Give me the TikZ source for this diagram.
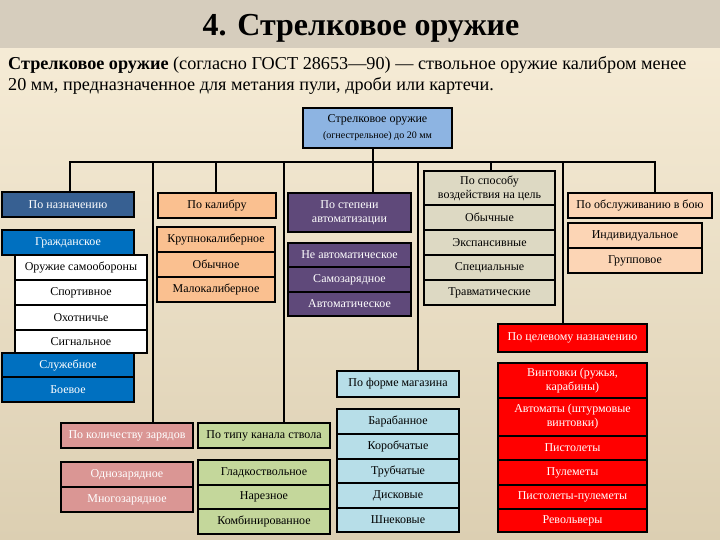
\documentclass[tikz,border=0pt]{standalone}
\usepackage{fontspec}
\setmainfont{Liberation Serif}
\usepackage{xcolor}
\definecolor{PaperTop}{HTML}{F8EED9}
\definecolor{PaperBot}{HTML}{DCCFB2}
\definecolor{TitleBand}{HTML}{D6CDBD}
\definecolor{RootFill}{HTML}{8DB4E2}
\definecolor{NazFill}{HTML}{376092}
\definecolor{CivFill}{HTML}{0070C0}
\definecolor{KalFill}{HTML}{FAC090}
\definecolor{AvtFill}{HTML}{5F497A}
\definecolor{SposFill}{HTML}{DDD9C3}
\definecolor{ObslFill}{HTML}{FCD5B5}
\definecolor{CelFill}{HTML}{FF0000}
\definecolor{MagFill}{HTML}{B7DEE8}
\definecolor{ZarFill}{HTML}{DA9694}
\definecolor{StvFill}{HTML}{C4D79B}
\usepackage{tikz}
\usetikzlibrary{positioning,calc,backgrounds}

\begin{document}
\begin{tikzpicture}[
    x=1pt, y=-1pt,
    cell/.style={
        draw,
        line width=2.2pt,
        outer sep=0pt,
        inner sep=1pt,
        minimum height=25pt,
        align=center,
        font=\fontsize{12}{14}\selectfont
    },
    root/.style={cell, minimum width=149pt, minimum height=40pt, fill=RootFill},
    naz/.style={cell, minimum width=132pt, fill=NazFill, text=white},
    civ/.style={cell, minimum width=132pt, fill=CivFill, text=white},
    wht/.style={cell, minimum width=132pt, fill=white},
    kal/.style={cell, minimum width=118pt, fill=KalFill},
    avt/.style={cell, minimum width=123pt, fill=AvtFill, text=white},
    spos/.style={cell, minimum width=131pt, fill=SposFill},
    obsl/.style={cell, minimum width=144pt, fill=ObslFill},
    cel/.style={cell, minimum width=149pt, fill=CelFill, text=white},
    mag/.style={cell, minimum width=122pt, fill=MagFill},
    zar/.style={cell, minimum width=132pt, fill=ZarFill, text=white},
    stv/.style={cell, minimum width=132pt, fill=StvFill},
    link/.style={line width=2.6pt, line cap=rect}
]

\useasboundingbox (0,0) rectangle (720,540);

% ---------------------------------------------------------
% Фон и заголовок
% ---------------------------------------------------------

\begin{scope}[on background layer]
\fill[top color=PaperTop, bottom color=PaperBot] (0,0) rectangle (720,540);
\fill[TitleBand] (0,0) rectangle (720,48);
\end{scope}

\node[anchor=base, font=\fontsize{32}{36}\selectfont\bfseries] (title) at (361,36)
{4. Стрелковое оружие};

\node[anchor=base west, inner sep=0pt, font=\fontsize{18.2}{21}\selectfont] (def1) at (8,70)
{\textbf{Стрелковое оружие} (согласно ГОСТ 28653—90) — ствольное оружие калибром менее};

\node[anchor=base west, inner sep=0pt, font=\fontsize{18.2}{21}\selectfont] (def2) at (8,91)
{20 мм, предназначенное для метания пули, дроби или картечи.};

% ---------------------------------------------------------
% Корень
% ---------------------------------------------------------

\node[root] (root) at (377.5,128)
{Стрелковое оружие\\[2pt]{\fontsize{10}{12}\selectfont (огнестрельное) до 20 мм}};

% ---------------------------------------------------------
% По назначению
% ---------------------------------------------------------

\node[naz] (naz) at (68,204.5) {По назначению};
\node[civ] (grazh) at (68,242.5) {Гражданское};
\node[wht] (samo) at (81,267.5) {Оружие самообороны};
\node[wht] (sport) at (81,292.5) {Спортивное};
\node[wht] (ohot) at (81,317.5) {Охотничье};
\node[wht, minimum height=23pt] (signal) at (81,341.5) {Сигнальное};
\node[civ, minimum height=24pt] (sluzh) at (68,365) {Служебное};
\node[civ] (boev) at (68,389.5) {Боевое};

% ---------------------------------------------------------
% По калибру
% ---------------------------------------------------------

\node[kal] (kal) at (217,205.5) {По калибру};
\node[kal] (krup) at (216,239.5) {Крупнокалиберное};
\node[kal] (obych) at (216,264.5) {Обычное};
\node[kal] (malo) at (216,289.5) {Малокалиберное};

% ---------------------------------------------------------
% По степени автоматизации
% ---------------------------------------------------------

\node[avt, minimum height=39pt] (stepen) at (349.5,212.5)
{По степени\\автоматизации};
\node[avt, minimum height=24pt] (neavt) at (349.5,255) {Не автоматическое};
\node[avt] (samoz) at (349.5,279.5) {Самозарядное};
\node[avt, minimum height=24pt] (avtom) at (349.5,304) {Автоматическое};

% ---------------------------------------------------------
% По способу воздействия на цель
% ---------------------------------------------------------

\node[spos, minimum height=34pt] (sposob) at (489.5,188)
{По способу\\воздействия на цель};
\node[spos] (obychn) at (489.5,217.5) {Обычные};
\node[spos] (eksp) at (489.5,242.5) {Экспансивные};
\node[spos] (spec) at (489.5,267.5) {Специальные};
\node[spos] (travm) at (489.5,292.5) {Травматические};

% ---------------------------------------------------------
% По обслуживанию в бою
% ---------------------------------------------------------

\node[obsl] (obsl) at (640,205.5) {По обслуживанию в бою};
\node[obsl, minimum width=134pt] (indiv) at (635,235.5) {Индивидуальное};
\node[obsl, minimum width=134pt] (grupp) at (635,260.5) {Групповое};

% ---------------------------------------------------------
% По целевому назначению
% ---------------------------------------------------------

\node[cel, minimum height=28pt] (cel) at (572.5,338) {По целевому назначению};
\node[cel, minimum height=35pt] (vint) at (572.5,380.5)
{Винтовки (ружья,\\карабины)};
\node[cel, minimum height=38pt] (avtm) at (572.5,417)
{Автоматы (штурмовые\\винтовки)};
\node[cel, minimum height=24pt] (pist) at (572.5,448) {Пистолеты};
\node[cel] (pulem) at (572.5,472.5) {Пулеметы};
\node[cel, minimum height=24pt] (pp) at (572.5,497) {Пистолеты-пулеметы};
\node[cel, minimum height=23pt] (revol) at (572.5,520.5) {Револьверы};

% ---------------------------------------------------------
% По форме магазина
% ---------------------------------------------------------

\node[mag, minimum height=26pt] (forma) at (398,384) {По форме магазина};
\node[mag] (baraban) at (398,421.5) {Барабанное};
\node[mag] (korob) at (398,446.5) {Коробчатые};
\node[mag, minimum height=24pt] (trub) at (398,471) {Трубчатые};
\node[mag] (disk) at (398,495.5) {Дисковые};
\node[mag, minimum height=24pt] (shnek) at (398,520) {Шнековые};

% ---------------------------------------------------------
% По количеству зарядов / По типу канала ствола
% ---------------------------------------------------------

\node[zar] (kolvo) at (127,435.5) {По количеству зарядов};
\node[zar] (odno) at (127,474.5) {Однозарядное};
\node[zar] (mnogo) at (127,499.5) {Многозарядное};

\node[stv] (tip) at (264,435.5) {По типу канала ствола};
\node[stv] (glad) at (264,472.5) {Гладкоствольное};
\node[stv, minimum height=24pt] (nar) at (264,497) {Нарезное};
\node[stv] (komb) at (264,521.5) {Комбинированное};

% ---------------------------------------------------------
% Шина и отводы
% ---------------------------------------------------------

\coordinate (barL) at (70,162);
\coordinate (barR) at (655,162);
\coordinate (stem) at (373,162);
\coordinate (d1) at (153,162);
\coordinate (d2) at (216,162);
\coordinate (d3) at (284,162);
\coordinate (d4) at (418,162);
\coordinate (d5) at (491,162);
\coordinate (d6) at (563,162);

\begin{scope}[on background layer]
\draw[link] (barL) -- (barR);
\draw[link] (root.south -| stem) -- (stem |- stepen.north);
\draw[link] (barL) -- (barL |- naz.north);
\draw[link] (d1) -- (d1 |- kolvo.north);
\draw[link] (d2) -- (d2 |- kal.north);
\draw[link] (d3) -- (d3 |- tip.north);
\draw[link] (d4) -- (d4 |- forma.north);
\draw[link] (d5) -- (d5 |- sposob.north);
\draw[link] (d6) -- (d6 |- cel.north);
\draw[link] (barR) -- (barR |- obsl.north);
\end{scope}

\end{tikzpicture}
\end{document}
